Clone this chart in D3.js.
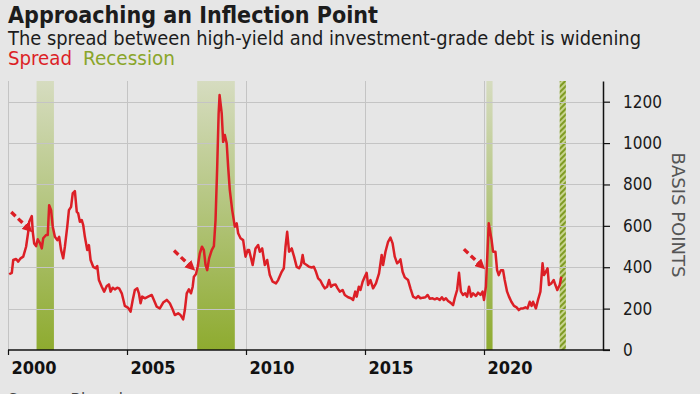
<!DOCTYPE html>
<html><head><meta charset="utf-8">
<script src="https://cdn.jsdelivr.net/npm/d3@7"></script>
<style>
html,body{margin:0;padding:0;background:#e6e6e6;}
svg{display:block;}
text{font-family:'DejaVu Sans Condensed','DejaVu Sans',sans-serif;}
</style></head><body>
<svg id="chart" width="700" height="394"></svg>
<script>
// ---- data ----
const dates = [
 2000.05,2000.16,2000.22,2000.34,2000.43,2000.53,2000.64,2000.76,2000.85,2000.89,
 2001.00,2001.04,2001.10,2001.18,2001.25,2001.34,2001.42,2001.48,2001.60,2001.67,
 2001.73,2001.81,2001.88,2001.97,2002.07,2002.15,2002.23,2002.32,2002.39,2002.49,
 2002.56,2002.65,2002.72,2002.81,2002.89,2002.95,2003.02,2003.10,2003.16,2003.23,
 2003.33,2003.40,2003.47,2003.58,2003.68,2003.75,2003.82,2003.94,2004.04,2004.15,
 2004.24,2004.31,2004.40,2004.49,2004.59,2004.67,2004.78,2004.91,2005.05,2005.15,
 2005.24,2005.33,2005.43,2005.50,2005.57,2005.64,2005.75,2005.89,2006.04,2006.13,
 2006.25,2006.38,2006.52,2006.67,2006.80,2006.90,2007.01,2007.15,2007.25,2007.36,
 2007.43,2007.51,2007.60,2007.69,2007.76,2007.81,2007.90,2007.97,2008.06,2008.15,
 2008.23,2008.30,2008.37,2008.45,2008.56,2008.65,2008.72,2008.79,2008.85,2008.89,
 2008.98,2009.04,2009.11,2009.19,2009.25,2009.32,2009.42,2009.53,2009.61,2009.67,
 2009.77,2009.88,2009.98,2010.07,2010.13,2010.28,2010.40,2010.51,2010.58,2010.68,
 2010.79,2010.89,2011.00,2011.12,2011.26,2011.35,2011.50,2011.59,2011.66,2011.73,
 2011.81,2011.92,2012.02,2012.13,2012.23,2012.31,2012.38,2012.44,2012.55,2012.65,
 2012.76,2012.85,2012.94,2013.03,2013.13,2013.22,2013.31,2013.41,2013.49,2013.57,
 2013.66,2013.76,2013.85,2013.94,2014.06,2014.15,2014.29,2014.41,2014.50,2014.59,
 2014.65,2014.74,2014.81,2014.90,2014.99,2015.07,2015.13,2015.23,2015.34,2015.46,
 2015.59,2015.70,2015.76,2015.86,2015.97,2016.07,2016.16,2016.25,2016.35,2016.43,
 2016.49,2016.58,2016.67,2016.81,2016.91,2017.02,2017.14,2017.23,2017.33,2017.44,
 2017.54,2017.63,2017.72,2017.84,2017.93,2018.03,2018.14,2018.23,2018.31,2018.40,
 2018.49,2018.59,2018.70,2018.77,2018.87,2018.95,2019.03,2019.12,2019.21,2019.29,
 2019.37,2019.46,2019.54,2019.66,2019.75,2019.85,2019.94,2020.00,2020.08,2020.15,
 2020.20,2020.32,2020.38,2020.48,2020.55,2020.62,2020.71,2020.80,2020.87,2020.97,
 2021.05,2021.15,2021.26,2021.37,2021.46,2021.55,2021.64,2021.74,2021.83,2021.92,
 2022.00,2022.06,2022.18,2022.27,2022.37,2022.46,2022.52,2022.60,2022.67,2022.73,
 2022.83,2022.93,2023.00,2023.08,2023.18,2023.25
];
const spread = [
 366,373,435,440,427,443,451,499,571,620,
 647,571,515,502,535,518,491,540,556,556,
 700,676,596,547,531,547,483,443,499,596,
 676,692,757,768,668,660,620,628,604,547,
 483,507,435,402,395,406,338,306,282,309,
 317,282,301,293,301,298,274,213,204,185,
 242,290,298,274,226,258,250,258,266,242,
 209,201,229,242,226,201,169,177,169,148,
 193,274,293,274,306,354,367,402,467,499,
 483,411,386,443,483,502,628,885,1143,1232,
 1143,1006,1039,998,885,773,676,596,612,564,
 540,531,451,483,483,411,491,507,475,491,
 411,435,362,330,322,338,378,395,499,571,
 475,491,451,402,395,411,459,419,411,402,
 399,402,378,346,335,314,298,306,338,306,
 314,317,298,282,290,266,255,250,242,282,
 258,306,290,330,354,373,314,338,298,322,
 370,459,411,475,523,543,515,451,419,427,
 438,378,351,338,298,258,250,261,250,253,
 255,266,248,250,245,250,242,255,242,250,
 237,229,217,250,290,373,282,266,274,258,
 306,258,274,261,277,266,282,242,306,483,
 612,531,475,475,386,362,386,386,338,282,
 258,233,213,206,193,201,201,206,201,233,
 213,233,201,242,282,419,362,378,395,314,
 322,338,314,290,314,354
];
const recessionStart = [2001.20, 2007.95, 2020.10, 2023.18];
const recessionEnd   = [2001.93, 2009.53, 2020.36, 2023.44];
const recessionHatched = [false, false, false, true];
const xTicks = [2000, 2005, 2010, 2015, 2020];
const yTicks = [0, 200, 400, 600, 800, 1000, 1200];
const arrowDates  = [2001.06, 2007.90, 2020.08];
const arrowValues = [565, 379, 386];
const titleText = "Approaching an Inflection Point";
const subtitleText = "The spread between high-yield and investment-grade debt is widening";
const legendLabels = ["Spread", "Recession"];
const yAxisTitle = "BASIS POINTS";
const sourceText = "Source: Bloomberg";

// ---- drawing ----
const svg = d3.select("#chart");
const W = 700, H = 394;
const red = "#dc1f26", green = "#8aa52a";
svg.append("rect").attr("width", W).attr("height", H).attr("fill", "#e6e6e6");

const x = d3.scaleLinear().domain([2000, 2025]).range([8, 603]);
const y = d3.scaleLinear().domain([0, 1300]).range([350, 81]);

const defs = svg.append("defs");
const grad = defs.append("linearGradient").attr("id", "recGrad")
  .attr("gradientUnits", "userSpaceOnUse")
  .attr("x1", 0).attr("x2", 0).attr("y1", y(1300)).attr("y2", y(0));
grad.append("stop").attr("offset", "0%").attr("stop-color", "#d6dcc0");
grad.append("stop").attr("offset", "45%").attr("stop-color", "#b5c681");
grad.append("stop").attr("offset", "100%").attr("stop-color", "#8eab2f");
const pat = defs.append("pattern").attr("id", "hatch")
  .attr("patternUnits", "userSpaceOnUse").attr("width", 4).attr("height", 4)
  .attr("patternTransform", "rotate(45)");
pat.append("rect").attr("width", 4).attr("height", 4).attr("fill", "#c7d38e");
pat.append("rect").attr("width", 2).attr("height", 4).attr("fill", "#7f9b24");
defs.append("marker").attr("id", "arrowHead")
  .attr("viewBox", "0 0 10 10").attr("refX", 7).attr("refY", 5)
  .attr("markerWidth", 3).attr("markerHeight", 3).attr("orient", "auto")
  .append("path").attr("d", "M0,0 L10,5 L0,10 z").attr("fill", red);

// recession bars
svg.append("g").selectAll("rect").data(recessionStart).join("rect")
  .attr("x", (d) => x(d))
  .attr("width", (d, i) => x(recessionEnd[i]) - x(d))
  .attr("y", y(1300)).attr("height", y(0) - y(1300))
  .attr("fill", (d, i) => recessionHatched[i] ? "url(#hatch)" : "url(#recGrad)");

// gridlines
const grid = svg.append("g").attr("stroke", "#c4c4c4").attr("stroke-width", 1);
grid.selectAll(".h").data(yTicks.filter(d => d > 0)).join("line")
  .attr("x1", x(2000)).attr("x2", x(2025))
  .attr("y1", d => Math.round(y(d)) + 0.5).attr("y2", d => Math.round(y(d)) + 0.5);
grid.selectAll(".v").data(xTicks).join("line")
  .attr("x1", d => Math.round(x(d)) + 0.5).attr("x2", d => Math.round(x(d)) + 0.5)
  .attr("y1", y(1300)).attr("y2", y(0));

// x axis
const xAxis = svg.append("g").attr("transform", `translate(0,${y(0)})`)
  .call(d3.axisBottom(x).tickValues(xTicks).tickSize(5).tickPadding(6)
    .tickSizeOuter(0).tickFormat(d3.format("d")));
xAxis.select(".domain").remove();
xAxis.selectAll("line").attr("stroke", "#111").attr("stroke-width", 1.2);
xAxis.selectAll("text").attr("text-anchor", "start").attr("x", 3)
  .attr("font-size", 18).attr("font-weight", "bold").attr("fill", "#111")
  .style("font-family", "'DejaVu Sans Condensed','DejaVu Sans',sans-serif");
svg.append("line").attr("x1", x(2000)).attr("x2", x(2025) + 7)
  .attr("y1", y(0)).attr("y2", y(0)).attr("stroke", "#111").attr("stroke-width", 1.5);

// right axis
const yAxis = svg.append("g").attr("transform", `translate(${x(2025)},0)`)
  .call(d3.axisRight(y).tickValues(yTicks).tickSize(7).tickPadding(13)
    .tickSizeOuter(0).tickFormat(d3.format("d")));
yAxis.select(".domain").attr("stroke", "#111").attr("stroke-width", 1.5);
yAxis.selectAll("line").attr("stroke", "#111").attr("stroke-width", 1.2);
yAxis.selectAll("text").attr("font-size", 17).attr("fill", "#1a1a1a")
  .style("font-family", "'DejaVu Sans Condensed','DejaVu Sans',sans-serif");

svg.append("text").attr("transform", "translate(672,215) rotate(90)")
  .attr("text-anchor", "middle").attr("font-size", 17).attr("fill", "#555")
  .attr("textLength", 125).attr("lengthAdjust", "spacingAndGlyphs")
  .text(yAxisTitle);

// spread line
const pts = dates.map((d, i) => [d, spread[i]]);
svg.append("path").datum(pts)
  .attr("fill", "none").attr("stroke", red).attr("stroke-width", 2.5)
  .attr("stroke-linejoin", "round")
  .attr("d", d3.line().x(d => x(d[0])).y(d => y(d[1])));

// annotation arrows
svg.append("g").selectAll("line").data(arrowDates).join("line")
  .attr("x1", (d) => x(d) - 22).attr("y1", (d, i) => y(arrowValues[i]) - 21)
  .attr("x2", (d) => x(d) - 3).attr("y2", (d, i) => y(arrowValues[i]) - 3)
  .attr("stroke", red).attr("stroke-width", 3.4)
  .attr("stroke-dasharray", "6,3.5")
  .attr("marker-end", "url(#arrowHead)");

// titles
svg.append("text").attr("x", 8).attr("y", 23).attr("font-size", 23)
  .attr("font-weight", "bold").attr("fill", "#1c1c1c")
  .attr("textLength", 370).attr("lengthAdjust", "spacingAndGlyphs").text(titleText);
svg.append("text").attr("x", 8).attr("y", 45).attr("font-size", 19)
  .attr("fill", "#1c1c1c")
  .attr("textLength", 633).attr("lengthAdjust", "spacingAndGlyphs").text(subtitleText);
const legendX = [8, 83], legendW = [64, 92], legendC = [red, green];
svg.append("g").selectAll("text").data(legendLabels).join("text")
  .attr("x", (d, i) => legendX[i]).attr("y", 65).attr("font-size", 19)
  .attr("fill", (d, i) => legendC[i])
  .attr("textLength", (d, i) => legendW[i]).attr("lengthAdjust", "spacingAndGlyphs")
  .text(d => d);
svg.append("text").attr("x", 8).attr("y", 406).attr("font-size", 17)
  .attr("fill", "#444").text(sourceText);
</script>
</body></html>
